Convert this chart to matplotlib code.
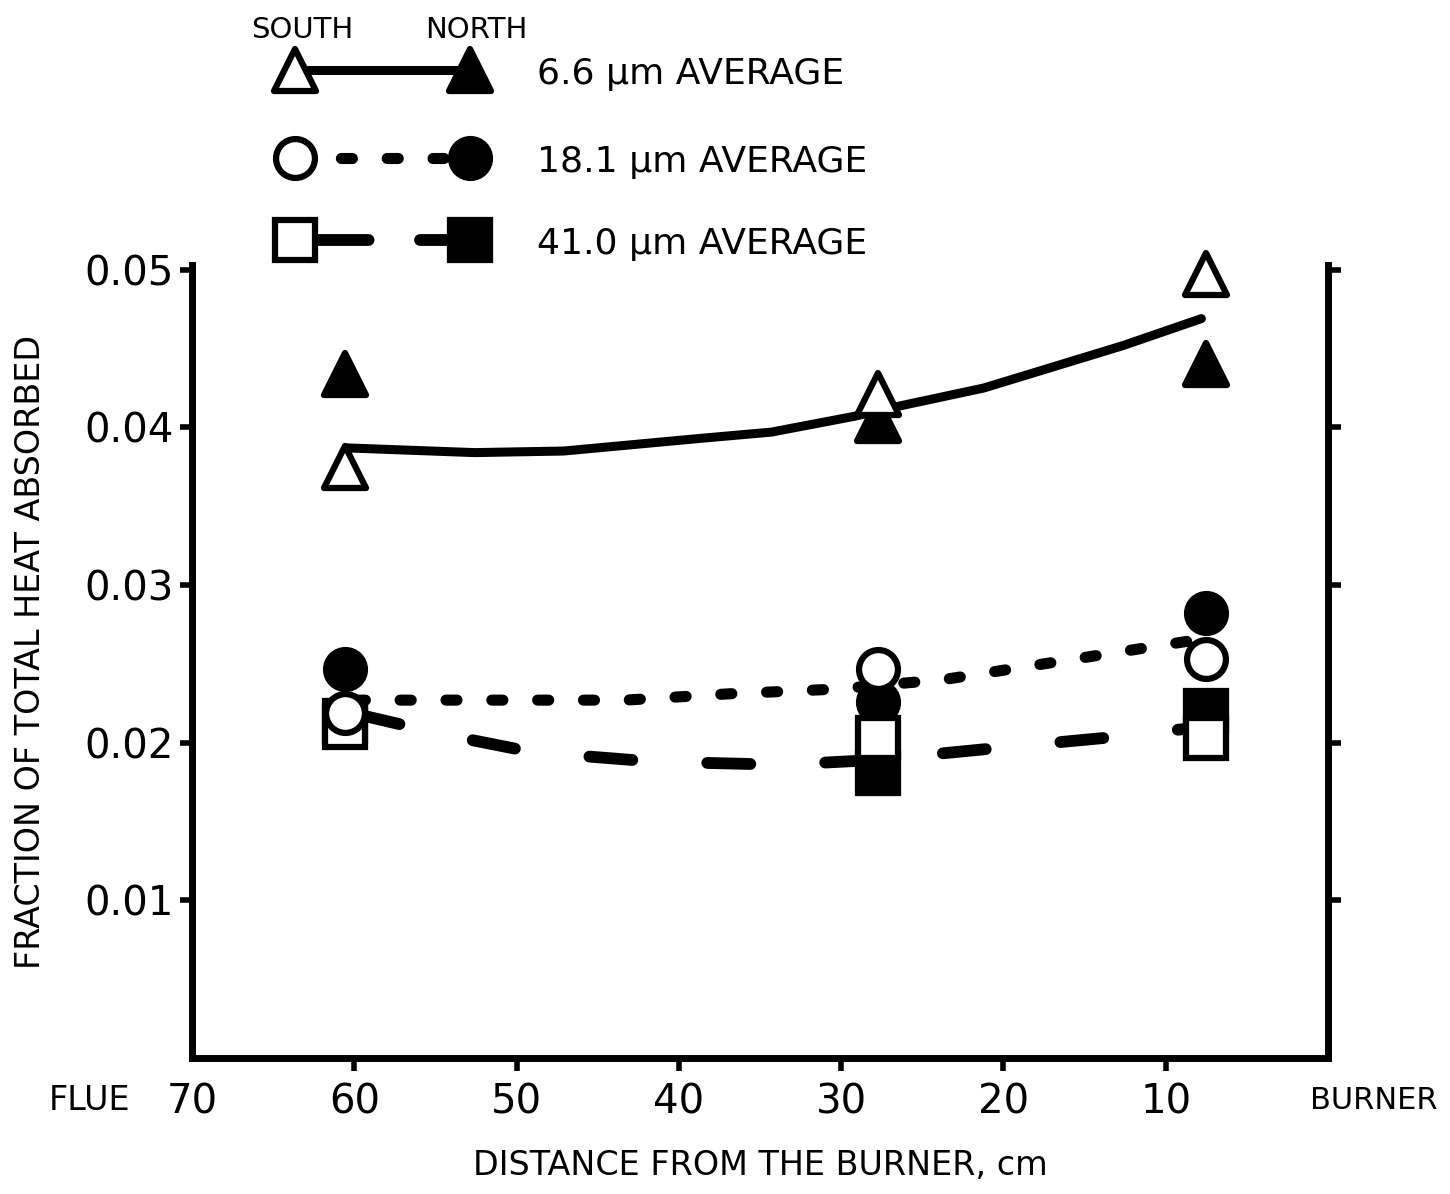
import matplotlib.pyplot as plt
from matplotlib.markers import MarkerStyle

plt.rcParams['font.family'] = ['DejaVu Sans']
plt.rcParams['lines.scale_dashes'] = False

# distance from the burner (cm) of the three probe stations
dist = [60.6, 27.7, 7.5]

# fraction of total heat absorbed: south wall (open) and north wall (filled)
south_66 = [0.0375, 0.0421, 0.0497]
north_66 = [0.0434, 0.0405, 0.0440]
south_181 = [0.0219, 0.0247, 0.0253]
north_181 = [0.0247, 0.0226, 0.0282]
south_410 = [0.0210, 0.0203, 0.0203]
north_410 = [0.0214, 0.0181, 0.0220]

# hand drawn average curves
fit_x_66 = [60.5, 52.6, 47.1, 38.7, 34.3, 29.2, 26.2, 21.2, 12.6, 7.8]
fit_y_66 = [0.0387, 0.0384, 0.0385, 0.0393, 0.0397, 0.0407, 0.0414, 0.0425, 0.0452, 0.0469]
fit_x_181 = [60.0, 57.5, 43.3, 36.9, 30.3, 23.7, 17.5, 10.1, 7.0]
fit_y_181 = [0.0227, 0.0227, 0.0227, 0.0231, 0.0234, 0.0240, 0.0250, 0.0262, 0.0267]
fit_x_410 = [59.8, 54.4, 49.0, 41.6, 33.6, 28.0, 20.0, 13.8, 7.7]
fit_y_410 = [0.0218, 0.0205, 0.0194, 0.0188, 0.0186, 0.0189, 0.0197, 0.0203, 0.0210]

x_ticks = [70, 60, 50, 40, 30, 20, 10]
y_ticks = [0.01, 0.02, 0.03, 0.04, 0.05]
legend_labels = ['6.6 \u03bcm AVERAGE', '18.1 \u03bcm AVERAGE', '41.0 \u03bcm AVERAGE']

W, H = 1450, 1194
fig = plt.figure(figsize=(W / 100, H / 100), dpi=100)
ax = fig.add_axes([192 / W, 1 - 1058 / H, (1328 - 192) / W, (1058 - 265) / H])

solid = dict(color='black', lw=6.5, solid_capstyle='round')
dotted = dict(color='black', lw=8, dashes=(8, 25), dash_capstyle='round')
dashed = dict(color='black', lw=8.5, dashes=(31, 54), dash_capstyle='round')

ax.plot(fit_x_66, fit_y_66, **solid)
ax.plot(fit_x_181, fit_y_181, **dotted)
ax.plot(fit_x_410, fit_y_410, **dashed)

tri = MarkerStyle('^', joinstyle='round')
mk = dict(ls='none', mew=4.5, mec='black', clip_on=False)
ax.plot(dist, north_66, marker=tri, ms=30, mfc='black', zorder=3, **mk)
ax.plot(dist, north_181, marker='o', ms=28, mfc='black', zorder=3, **mk)
ax.plot(dist, north_410, marker='s', ms=29, mfc='black', zorder=3, **mk)
ax.plot(dist, south_410, marker='s', ms=29, mfc='white', zorder=4, **mk)
ax.plot(dist, south_181, marker='o', ms=28, mfc='white', zorder=5, **mk)
ax.plot(dist, south_66, marker=tri, ms=30, mfc='white', zorder=5, **mk)

ax.set_xlim(70, 0)
ax.set_ylim(0, 0.0503)
ax.spines['top'].set_visible(False)
for s in ['left', 'right', 'bottom']:
    ax.spines[s].set_linewidth(5)

ax.set_xticks(x_ticks)
ax.set_xticklabels([str(v) for v in x_ticks])
ax.set_yticks(y_ticks)
ax.set_yticklabels(['%.2f' % v for v in y_ticks])
ax.tick_params(axis='x', direction='out', length=9, width=4, pad=9, labelsize=29)
ax.tick_params(axis='y', direction='out', length=9, width=4, pad=4, labelsize=29,
               right=True)
ax.xaxis.get_major_ticks()[0].tick1line.set_visible(False)

ax.set_xlabel('DISTANCE FROM THE BURNER, cm', fontsize=24)
ax.xaxis.set_label_coords(0.5, -0.115)
ax.set_ylabel('FRACTION OF TOTAL HEAT ABSORBED', fontsize=24)
ax.yaxis.set_label_coords(-0.128, 0.512)

ax.text(76.3, -0.053, 'FLUE', transform=ax.get_xaxis_transform(),
        ha='center', va='center', fontsize=24)
ax.text(-2.8, -0.053, 'BURNER', transform=ax.get_xaxis_transform(),
        ha='center', va='center', fontsize=22)

# legend drawn by hand in pixel space: open marker, line, filled marker, label
lg = fig.add_axes([0, 0, 1, 1])
lg.set_xlim(0, W)
lg.set_ylim(H, 0)
lg.axis('off')
lg.text(302, 30, 'SOUTH', ha='center', va='center', fontsize=21)
lg.text(476, 30, 'NORTH', ha='center', va='center', fontsize=21)

leg_dashed = dict(dashed, dashes=(53, 37))
rows = [(70, tri, solid, 30), (158, 'o', dotted, 28), (240, 's', leg_dashed, 29)]
for (yy, m, style, size), label in zip(rows, legend_labels):
    lg.plot([295, 470], [yy, yy], **style)
    lg.plot([295], [yy], marker=m, ms=size, mfc='white', **mk)
    lg.plot([470], [yy], marker=m, ms=size, mfc='black', **mk)
    lg.text(537, yy + 4, label, ha='left', va='center', fontsize=26)

fig.savefig('out.png', dpi=100)
